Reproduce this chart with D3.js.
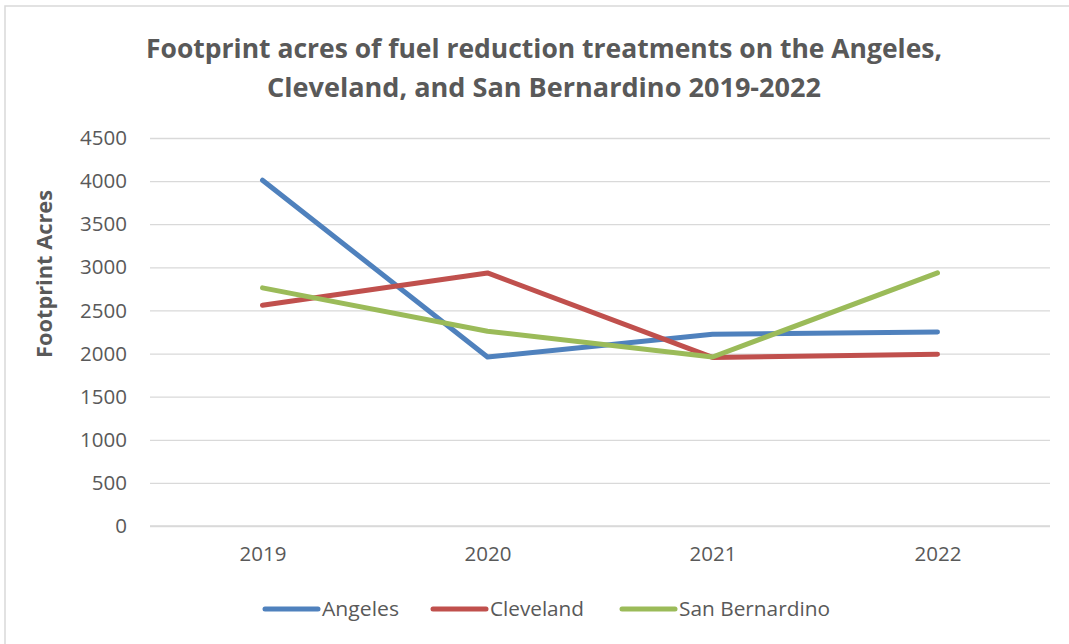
<!DOCTYPE html>
<html>
<head>
<meta charset="utf-8">
<script src="https://cdn.jsdelivr.net/npm/d3@7"></script>
<style>
  html, body { margin: 0; padding: 0; background: #fff; }
  svg { display: block; }
</style>
</head>
<body>
<svg id="chart" width="1069" height="644"></svg>
<script>
const years = ["2019", "2020", "2021", "2022"];
const angeles = [4010, 1960, 2225, 2250];
const cleveland = [2560, 2935, 1955, 1992];
const sanBernardino = [2762, 2259, 1960, 2936];
const yTicks = [0, 500, 1000, 1500, 2000, 2500, 3000, 3500, 4000, 4500];
const seriesNames = ["Angeles", "Cleveland", "San Bernardino"];
const seriesColors = ["#4F81BD", "#C0504D", "#9BBB59"];
const titleLines = ["Footprint acres of fuel reduction treatments on the Angeles,", "Cleveland, and San Bernardino 2019-2022"];
const yAxisTitle = "Footprint Acres";

const series = [angeles, cleveland, sanBernardino].map((vals, i) => ({
  name: seriesNames[i], color: seriesColors[i],
  values: vals.map((v, j) => ({ year: years[j], value: v }))
}));

const svg = d3.select("#chart");
const textColor = "#595959";
const font = "'Open Sans', 'Noto Sans', sans-serif";

// outer border
svg.append("rect").attr("x", 5).attr("y", 6).attr("width", 1080).attr("height", 660)
  .attr("fill", "none").attr("stroke", "#d9d9d9").attr("stroke-width", 1.5);

const plot = { left: 150, right: 1050, top: 138, bottom: 526 };
const x = d3.scalePoint().domain(years).range([plot.left, plot.right]).padding(0.5);
const y = d3.scaleLinear().domain([0, 4500]).range([plot.bottom, plot.top]);

// gridlines via axis
const yAxis = d3.axisLeft(y).tickValues(yTicks).tickFormat(d3.format("d"))
  .tickSize(-(plot.right - plot.left)).tickPadding(23);
const gy = svg.append("g").attr("transform", `translate(${plot.left},0)`).call(yAxis);
gy.select(".domain").remove();
gy.selectAll(".tick line").attr("stroke", "#d9d9d9").attr("stroke-width", 1.3);
gy.selectAll(".tick text").attr("fill", textColor).style("font-family", font).style("font-size", "20.5px");

// x axis
const xAxis = d3.axisBottom(x).tickSize(0).tickPadding(20);
const gx = svg.append("g").attr("transform", `translate(0,${plot.bottom})`).call(xAxis);
gx.select(".domain").attr("stroke", "#d9d9d9").attr("stroke-width", 1.3)
  .attr("d", `M${plot.left},0H${plot.right}`);
gx.selectAll(".tick text").attr("fill", textColor).style("font-family", font).style("font-size", "20.5px");

// lines
const line = d3.line().x(d => x(d.year)).y(d => y(d.value));
svg.append("g").selectAll("path").data(series).join("path")
  .attr("d", d => line(d.values))
  .attr("fill", "none")
  .attr("stroke", d => d.color)
  .attr("stroke-width", 5)
  .attr("stroke-linecap", "round")
  .attr("stroke-linejoin", "round");

// title
const titleY = [57.5, 96.5];
const titleLen = [796, 554];
svg.append("g").selectAll("text").data(titleLines).join("text")
  .attr("x", 544).attr("y", (d, i) => titleY[i])
  .attr("text-anchor", "middle")
  .attr("textLength", (d, i) => titleLen[i])
  .attr("lengthAdjust", "spacingAndGlyphs")
  .attr("fill", textColor)
  .style("font-family", font).style("font-weight", "bold").style("font-size", "27px")
  .text(d => d);

// y axis title
svg.append("text")
  .attr("transform", `translate(52,${(190 + 358) / 2}) rotate(-90)`)
  .attr("text-anchor", "middle")
  .attr("textLength", 168)
  .attr("lengthAdjust", "spacingAndGlyphs")
  .attr("fill", textColor)
  .style("font-family", font).style("font-weight", "bold").style("font-size", "21px")
  .text(yAxisTitle);

// legend
const legendX = [263, 431, 620];
const legendTextLen = [77, 94, 151];
const lg = svg.append("g").selectAll("g").data(series).join("g")
  .attr("transform", (d, i) => `translate(${legendX[i]},609)`);
lg.append("line").attr("x1", 2).attr("x2", 55).attr("y1", 0).attr("y2", 0)
  .attr("stroke", d => d.color).attr("stroke-width", 5).attr("stroke-linecap", "round");
lg.append("text").attr("x", 59).attr("y", 0).attr("dy", "0.35em")
  .attr("textLength", (d, i) => legendTextLen[i])
  .attr("lengthAdjust", "spacingAndGlyphs")
  .attr("fill", textColor)
  .style("font-family", font).style("font-size", "20.5px")
  .text(d => d.name);
</script>
</body>
</html>
